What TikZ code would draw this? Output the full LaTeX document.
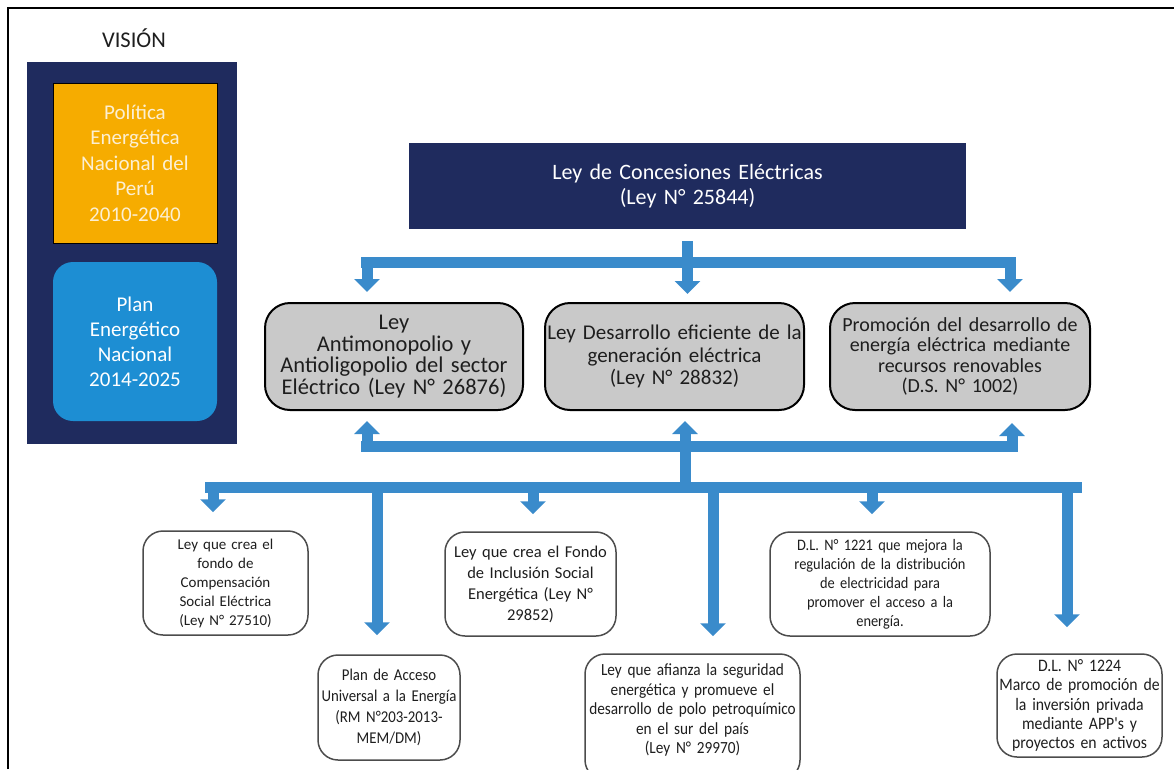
\documentclass[tikz,border=0pt]{standalone}
\usepackage{fontspec}
\setmainfont{Carlito}
\newfontfamily\narrowfont[FakeStretch=0.9]{Carlito}
\usetikzlibrary{arrows.meta}
\definecolor{navy}{HTML}{1F2B5E}
\definecolor{amber}{HTML}{F6AC00}
\definecolor{skyblue}{HTML}{1D8ED3}
\definecolor{flowblue}{HTML}{3A8BCB}
\definecolor{panelgray}{HTML}{C9C9C9}
\definecolor{cream}{HTML}{FCEFD2}
\definecolor{inkgray}{HTML}{1E1E1E}

\begin{document}
\begin{tikzpicture}[x=1pt,y=-1pt,
  every node/.style={inner sep=0pt, align=center},
  navypanel/.style={rectangle, fill=navy, draw=none, text=white},
  amberbox/.style={rectangle, fill=amber, draw=black, line width=1pt, text=cream,
    font=\fontsize{21}{25.5}\selectfont},
  planbox/.style={rectangle, rounded corners=20pt, fill=skyblue, draw=none, text=white,
    font=\fontsize{21}{25}\selectfont},
  lawbox/.style={rectangle, rounded corners=25pt, fill=panelgray, draw=black,
    line width=2pt, text=inkgray, minimum height=107pt},
  normbox/.style={rectangle, rounded corners=20pt, fill=white, draw=black!70,
    line width=1.5pt, text=inkgray},
  flow/.style={draw=flowblue, line width=11pt, line join=miter},
  tip/.tip={Triangle[width=25pt,length=13pt]}
]
\useasboundingbox (0,0) rectangle (1174,769);

% outer frame (top and left edges)
\draw[line width=1.3pt] (8,769) -- (8,8) -- (1174,8);

% ---------- vision column ----------
\node[font=\fontsize{22.5}{24}\selectfont, text=inkgray] (vtitle) at (134,38) {VISIÓN};
\node[navypanel, minimum width=210pt, minimum height=382pt] (panel) at (132,253) {};
\node[amberbox, minimum width=164pt, minimum height=160pt, text width=156pt] (pen) at (135,163)
  {Política\\Energética\\Nacional del\\Perú\\2010-2040};
\node[planbox, minimum width=164pt, minimum height=159pt, text width=156pt] (plan) at (135,341.5)
  {Plan\\Energético\\Nacional\\2014-2025};

% ---------- main law ----------
\node[navypanel, minimum width=557pt, minimum height=86pt, text width=540pt,
  font=\fontsize{22}{25}\selectfont] (lce) at (687.5,186)
  {Ley de Concesiones Eléctricas\\(Ley N° 25844)};

% ---------- second level ----------
\node[lawbox, minimum width=258pt, text width=256pt, font=\fontsize{22.5}{21.8}\selectfont] (anti) at (394,356.5)
  {Ley\\Antimonopolio y\\Antioligopolio del sector\\Eléctrico (Ley N° 26876)};
\node[lawbox, minimum width=259pt, text width=258pt, font=\fontsize{21}{22.5}\selectfont] (gen) at (674.5,356.5)
  {Ley Desarrollo eficiente de la\\generación eléctrica\\(Ley N° 28832)};
\node[lawbox, minimum width=260pt, text width=256pt, font=\fontsize{20}{20.5}\selectfont] (ren) at (960,356.5)
  {Promoción del desarrollo de\\energía eléctrica mediante\\recursos renovables\\(D.S. N° 1002)};

% ---------- third level ----------
\node[normbox, minimum width=165pt, minimum height=104pt, text width=160pt,
  font=\fontsize{15}{19}\selectfont] (fose) at (225.5,583)
  {Ley que crea el\\fondo de\\Compensación\\Social Eléctrica\\(Ley N° 27510)};
\node[normbox, minimum width=171pt, minimum height=104pt, text width=170pt,
  font=\fontsize{16.5}{21}\selectfont] (fise) at (530.5,584)
  {Ley que crea el Fondo\\de Inclusión Social\\Energética (Ley N°\\29852)};
\node[normbox, minimum width=220pt, minimum height=104pt, text width=214pt,
  font=\narrowfont\fontsize{16}{19}\selectfont] (dl1221) at (880,584)
  {D.L. N° 1221 que mejora la\\regulación de la distribución\\de electricidad para\\promover el acceso a la\\energía.};
\node[normbox, minimum width=142pt, minimum height=105pt, text width=140pt,
  font=\narrowfont\fontsize{16.5}{21}\selectfont] (acceso) at (389,707.5)
  {Plan de Acceso\\Universal a la Energía\\(RM N°203-2013-\\MEM/DM)};
\node[normbox, minimum width=215pt, minimum height=126pt, text width=212pt,
  font=\narrowfont\fontsize{17}{19.5}\selectfont] (petro) at (692.5,717)
  {Ley que afianza la seguridad\\energética y promueve el\\desarrollo de polo petroquímico\\en el sur del país\\(Ley N° 29970)\par\vspace{14pt}};
\node[normbox, minimum width=165pt, minimum height=103pt, text width=164pt,
  font=\narrowfont\fontsize{17.5}{19.3}\selectfont] (dl1224) at (1079.5,705.5)
  {D.L. N° 1224\\Marco de promoción de\\la inversión privada\\mediante APP's y\\proyectos en activos};

% ---------- distribution from the main law ----------
\coordinate (topL) at (367,262);
\coordinate (topR) at (1010,262);
\draw[flow] (361,262) -- (1016,262);
\draw[flow,-tip] ([yshift=-12pt]lce.south) -- ([yshift=8pt]lce.south |- gen.north);
\draw[flow,-tip] (topL) -- ([yshift=10pt]topL |- anti.north);
\draw[flow,-tip] (topR) -- ([yshift=10pt]topR |- ren.north);

% ---------- feedback from the third level ----------
\coordinate (midL) at (367,446);
\coordinate (midC) at (685,446);
\coordinate (midR) at (1012,446);
\draw[flow] (361,446) -- (1018,446);
\draw[flow,-tip] (midL) -- ([yshift=-10pt]midL |- anti.south);
\draw[flow,-tip] (685,487) -- ([yshift=-10pt]midC |- gen.south);
\draw[flow,-tip] (midR) -- ([yshift=-12pt]midR |- ren.south);

% ---------- bus to the third level ----------
\draw[flow] (205,487) -- (1082,487);
\coordinate (b1) at (213,487);
\coordinate (b2) at (377,487);
\coordinate (b3) at (533,487);
\coordinate (b4) at (713,487);
\coordinate (b5) at (872,487);
\coordinate (b6) at (1067,487);
\draw[flow,-tip] (b1) -- ([yshift=18pt]b1 |- fose.north);
\draw[flow,-tip] (b2) -- ([yshift=19pt]b2 |- acceso.north);
\draw[flow,-tip] (b3) -- ([yshift=17pt]b3 |- fise.north);
\draw[flow,-tip] (b4) -- ([yshift=17pt]b4 |- petro.north);
\draw[flow,-tip] (b5) -- ([yshift=17pt]b5 |- dl1221.north);
\draw[flow,-tip] (b6) -- ([yshift=26pt]b6 |- dl1224.north);
\end{tikzpicture}
\end{document}
